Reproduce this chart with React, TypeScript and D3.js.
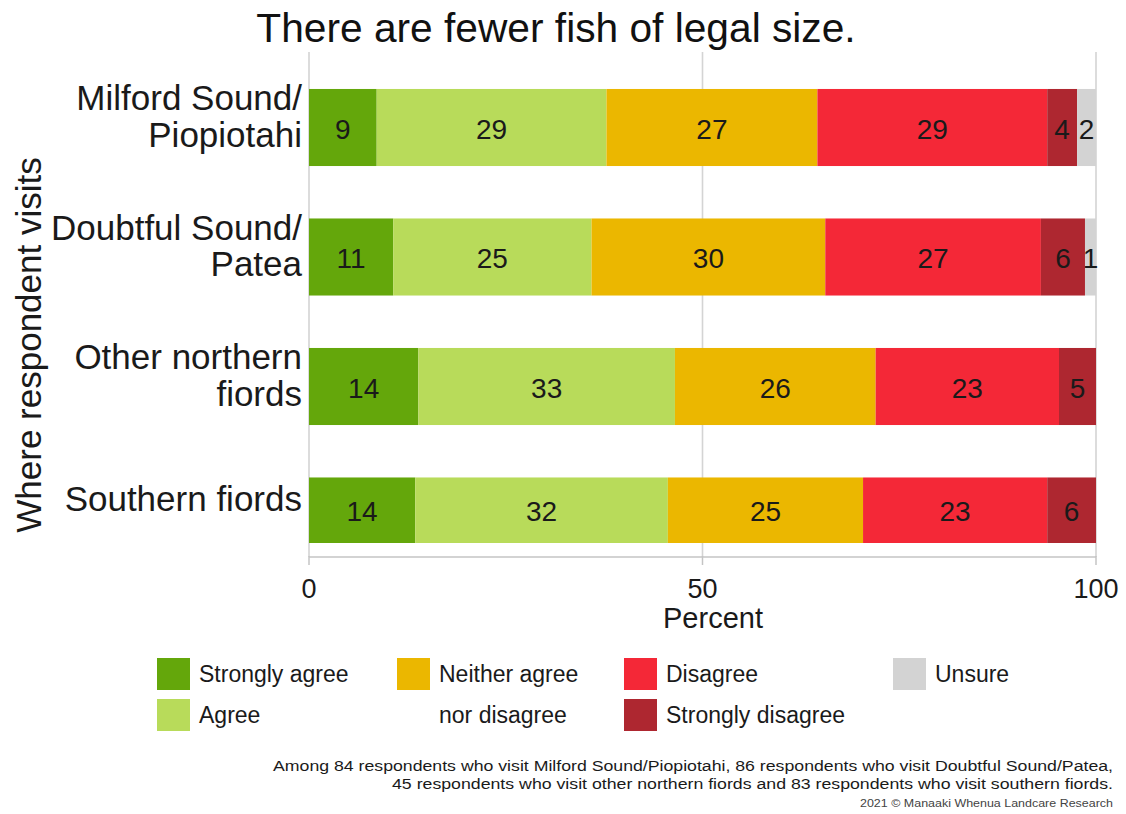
import React from "react";
import * as d3 from "d3";

const categories = [
  "Milford Sound/Piopiotahi",
  "Doubtful Sound/Patea",
  "Other northern fiords",
  "Southern fiords",
];
const categoryLines = [
  ["Milford Sound/", "Piopiotahi"],
  ["Doubtful Sound/", "Patea"],
  ["Other northern", "fiords"],
  ["Southern fiords"],
];
const responses = [
  "Strongly agree",
  "Agree",
  "Neither agree nor disagree",
  "Disagree",
  "Strongly disagree",
  "Unsure",
];
const stronglyAgree = [8.6, 10.7, 13.9, 13.5];
const agree = [29.2, 25.2, 32.6, 32.1];
const neither = [26.8, 29.7, 25.5, 24.8];
const disagree = [29.2, 27.4, 23.3, 23.4];
const stronglyDisagree = [3.8, 5.6, 4.7, 6.2];
const unsure = [2.4, 1.4, 0, 0];
const xTicks = [0, 50, 100];
const colors = ["#64a70b", "#b8db5a", "#ebb700", "#f42837", "#ae2730", "#d3d3d3"];

const legendItems = [
  { key: "Strongly agree", lines: ["Strongly agree"], col: 0, row: 0 },
  { key: "Agree", lines: ["Agree"], col: 0, row: 1 },
  { key: "Neither agree nor disagree", lines: ["Neither agree", "nor disagree"], col: 1, row: 0 },
  { key: "Disagree", lines: ["Disagree"], col: 2, row: 0 },
  { key: "Strongly disagree", lines: ["Strongly disagree"], col: 2, row: 1 },
  { key: "Unsure", lines: ["Unsure"], col: 3, row: 0 },
];
const legendColX = [157, 397, 624, 893];

const title = "There are fewer fish of legal size.";
const yTitle = "Where respondent visits";
const xTitle = "Percent";
const caption1 = "Among 84 respondents who visit Milford Sound/Piopiotahi, 86 respondents who visit Doubtful Sound/Patea,";
const caption2 = "45 respondents who visit other northern fiords and 83 respondents who visit southern fiords.";
const credit = "2021 \u00a9 Manaaki Whenua Landcare Research";

const FONT = "'Liberation Sans', Arial, Helvetica, sans-serif";

export default function App() {
  const W = 1126;
  const H = 814;
  const series = [stronglyAgree, agree, neither, disagree, stronglyDisagree, unsure];
  const table = categories.map((c, i) => {
    const row: any = { category: c };
    responses.forEach((r, j) => (row[r] = series[j][i]));
    return row;
  });
  const stacked = d3.stack().keys(responses)(table as any);

  const x = d3.scaleLinear().domain([0, 100]).range([309, 1096]);
  const y = d3
    .scaleBand<string>()
    .domain(categories)
    .range([62.75, 580.75])
    .paddingInner(0.405)
    .paddingOuter(0.2025);
  const plotTop = 52;
  const plotBottom = 543;
  const axisY = 557;
  const bw = y.bandwidth();
  const visCenter = (c: string) => {
    const t = y(c)!;
    const b = Math.min(t + bw, plotBottom);
    return (t + b) / 2;
  };
  const colorOf = d3.scaleOrdinal<string, string>().domain(responses).range(colors);

  return (
    <svg
      width={W}
      height={H}
      style={{ position: "absolute", left: 0, top: 0, background: "#fff" }}
      fontFamily={FONT}
    >
      <defs>
        <clipPath id="plotclip">
          <rect x={x(0)} y={plotTop} width={x(100) - x(0)} height={plotBottom - plotTop} />
        </clipPath>
      </defs>
      <rect x={0} y={0} width={W} height={H} fill="#fff" />
      {/* gridlines */}
      {xTicks.map((t) => (
        <line key={t} x1={x(t)} x2={x(t)} y1={plotTop} y2={axisY} stroke="#d4d4d4" strokeWidth={1.6} />
      ))}
      {/* bars */}
      <g clipPath="url(#plotclip)">
        {stacked.map((s) =>
          s.map((d, i) => (
            <rect
              key={s.key + i}
              x={x(d[0])}
              y={y(categories[i])}
              width={Math.max(0, x(d[1]) - x(d[0]))}
              height={bw}
              fill={colorOf(s.key)}
            />
          ))
        )}
      </g>
      {/* value labels */}
      {stacked.map((s) =>
        s.map((d, i) =>
          d[1] - d[0] > 0 ? (
            <text
              key={"l" + s.key + i}
              x={(x(d[0]) + x(d[1])) / 2}
              y={visCenter(categories[i]) + 11}
              textAnchor="middle"
              fontSize={28}
              fill="#1a1a1a"
            >
              {Math.round(d[1] - d[0])}
            </text>
          ) : null
        )
      )}
      {/* x axis */}
      <line x1={x(0)} x2={x(100)} y1={axisY} y2={axisY} stroke="#c4c4c4" strokeWidth={1.5} />
      {xTicks.map((t) => (
        <g key={"t" + t}>
          <line x1={x(t)} x2={x(t)} y1={axisY - 1} y2={axisY + 8} stroke="#c4c4c4" strokeWidth={1.5} />
          <text x={x(t)} y={598} textAnchor="middle" fontSize={27} fill="#1a1a1a">
            {t}
          </text>
        </g>
      ))}
      <text x={713} y={628} textAnchor="middle" fontSize={29} fill="#1a1a1a">
        {xTitle}
      </text>
      {/* y labels */}
      {categories.map((c, i) => {
        const lines = categoryLines[i];
        const cy = visCenter(c);
        return (
          <text key={c} textAnchor="end" fontSize={35} fill="#1a1a1a">
            {lines.map((ln, k) => (
              <tspan key={k} x={302} y={cy + (k - (lines.length - 1) / 2) * 36.6 + 1}>
                {ln}
              </tspan>
            ))}
          </text>
        );
      })}
      <text
        transform={`translate(41,345) rotate(-90)`}
        textAnchor="middle"
        fontSize={35}
        fill="#1a1a1a"
      >
        {yTitle}
      </text>
      {/* title */}
      <text x={556} y={42} textAnchor="middle" fontSize={40.7} fill="#111">
        {title}
      </text>
      {/* legend */}
      {legendItems.map((it) => {
        const lx = legendColX[it.col];
        const ly = 658 + it.row * 41;
        return (
          <g key={it.key}>
            <rect x={lx} y={ly} width={33} height={32} fill={colorOf(it.key)} />
            {it.lines.map((ln, k) => (
              <text key={k} x={lx + 42} y={ly + 24 + k * 41} fontSize={23} fill="#1a1a1a">
                {ln}
              </text>
            ))}
          </g>
        );
      })}
      {/* caption */}
      <text x={1113} y={771} textAnchor="end" fontSize={15.5} fill="#1a1a1a" textLength={840} lengthAdjust="spacingAndGlyphs">
        {caption1}
      </text>
      <text x={1113} y={789} textAnchor="end" fontSize={15.5} fill="#1a1a1a" textLength={721} lengthAdjust="spacingAndGlyphs">
        {caption2}
      </text>
      <text x={1113} y={807} textAnchor="end" fontSize={11.5} fill="#444" textLength={253} lengthAdjust="spacingAndGlyphs">
        {credit}
      </text>
    </svg>
  );
}
